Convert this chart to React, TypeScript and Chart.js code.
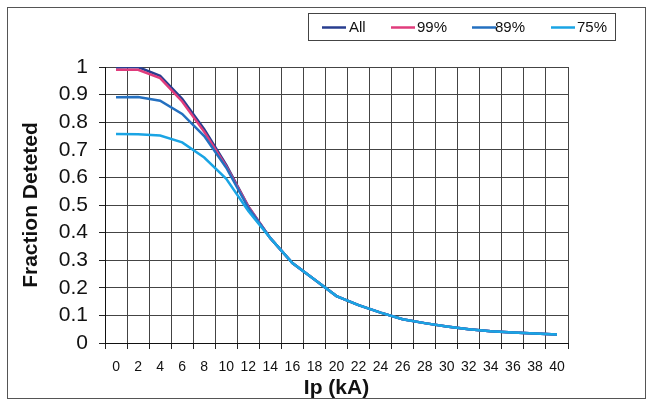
import React, { useEffect, useRef } from "react";
import { Chart, registerables } from "chart.js";

Chart.register(...registerables);

const ipLabels = [0, 2, 4, 6, 8, 10, 12, 14, 16, 18, 20, 22, 24, 26, 28, 30, 32, 34, 36, 38, 40];
const allSeries = [0.998, 1.0, 0.968, 0.885, 0.775, 0.645, 0.495, 0.38, 0.29, 0.23, 0.17, 0.137, 0.11, 0.086, 0.072, 0.06, 0.05, 0.043, 0.038, 0.034, 0.031];
const p99Series = [0.99, 0.99, 0.96, 0.875, 0.765, 0.64, 0.495, 0.38, 0.29, 0.23, 0.17, 0.137, 0.11, 0.086, 0.072, 0.06, 0.05, 0.043, 0.038, 0.034, 0.031];
const p89Series = [0.89, 0.891, 0.878, 0.83, 0.75, 0.635, 0.49, 0.38, 0.29, 0.23, 0.17, 0.137, 0.11, 0.086, 0.072, 0.06, 0.05, 0.043, 0.038, 0.034, 0.031];
const p75Series = [0.757, 0.756, 0.752, 0.727, 0.672, 0.595, 0.478, 0.38, 0.29, 0.23, 0.17, 0.137, 0.11, 0.086, 0.072, 0.06, 0.05, 0.043, 0.038, 0.034, 0.031];
const seriesNames = ["All", "99%", "89%", "75%"];
const seriesColors = ["#283e8f", "#e03c7c", "#2470c0", "#1aa4e4"];
const yTickValues = [0, 0.1, 0.2, 0.3, 0.4, 0.5, 0.6, 0.7, 0.8, 0.9, 1];

const FONT = "'Liberation Sans', Arial, sans-serif";

const framePlugin = {
  id: "frameAndLegend",
  afterDraw(chart: any) {
    const ctx = chart.ctx;
    ctx.save();
    ctx.strokeStyle = "#555";
    ctx.lineWidth = 1;
    ctx.strokeRect(7.5, 7.5, 638, 391);
    ctx.strokeStyle = "#444";
    ctx.strokeRect(308.5, 13.5, 307, 27);
    const lineStarts = [322, 391, 472, 551];
    const textStarts = [349, 417, 495, 577];
    ctx.font = `15px ${FONT}`;
    ctx.textBaseline = "middle";
    ctx.textAlign = "left";
    chart.data.datasets.forEach((ds: any, i: number) => {
      ctx.strokeStyle = ds.borderColor;
      ctx.lineWidth = 2.5;
      ctx.beginPath();
      ctx.moveTo(lineStarts[i], 27.5);
      ctx.lineTo(lineStarts[i] + 24, 27.5);
      ctx.stroke();
      ctx.fillStyle = "#111";
      ctx.fillText(ds.label, textStarts[i], 28);
    });
    ctx.restore();
  },
};

export default function App() {
  const ref = useRef<HTMLCanvasElement | null>(null);
  useEffect(() => {
    if (!ref.current) return;
    const seriesData = [allSeries, p99Series, p89Series, p75Series];
    const orders = [3, 2, 1, 0];
    const chart = new Chart(ref.current, {
      type: "line",
      data: {
        labels: ipLabels.map(String),
        datasets: seriesNames.map((name, i) => ({
          label: name,
          data: seriesData[i],
          borderColor: seriesColors[i],
          backgroundColor: seriesColors[i],
          borderWidth: 2.5,
          pointRadius: 0,
          tension: 0,
          order: orders[i],
        })),
      },
      options: {
        responsive: false,
        animation: false,
        layout: { padding: { left: 8, right: 86, top: 67, bottom: 0 } },
        plugins: {
          legend: { display: false },
          tooltip: { enabled: false },
        },
        scales: {
          x: {
            type: "category",
            offset: true,
            grid: {
              offset: true,
              color: "#444",
              lineWidth: 1,
              drawTicks: true,
              tickLength: 6,
              tickColor: "#222",
            },
            border: { color: "#111", width: 1 },
            ticks: {
              color: "#111",
              font: { family: FONT, size: 14 },
              padding: 10,
              maxRotation: 0,
              autoSkip: false,
            },
            title: {
              display: true,
              text: "Ip (kA)",
              color: "#111",
              font: { family: FONT, size: 21, weight: "bold" },
              padding: { top: 0, bottom: 6 },
            },
            afterFit: (scale: any) => {
              scale.height = 64;
            },
          },
          y: {
            min: 0,
            max: 1,
            afterBuildTicks: (scale: any) => {
              scale.ticks = yTickValues.map((v) => ({ value: v }));
            },
            grid: {
              color: "#444",
              lineWidth: 1,
              tickLength: 6,
              tickColor: "#222",
            },
            border: { color: "#111", width: 1 },
            ticks: {
              autoSkip: false,
              color: "#111",
              font: { family: FONT, size: 21 },
              padding: 11,
              callback: (v: any) => String(Math.round(Number(v) * 10) / 10),
            },
            title: {
              display: true,
              text: "Fraction Deteted",
              color: "#111",
              font: { family: FONT, size: 21, weight: "bold" },
              padding: { top: 11, bottom: 0 },
            },
            afterFit: (scale: any) => {
              scale.width = 97;
            },
          },
        },
      },
      plugins: [framePlugin],
    });
    return () => chart.destroy();
  }, []);
  return (
    <div style={{ position: "fixed", left: 0, top: 0, width: 654, height: 407, background: "#fff" }}>
      <canvas ref={ref} width={654} height={407} style={{ display: "block" }} />
    </div>
  );
}
